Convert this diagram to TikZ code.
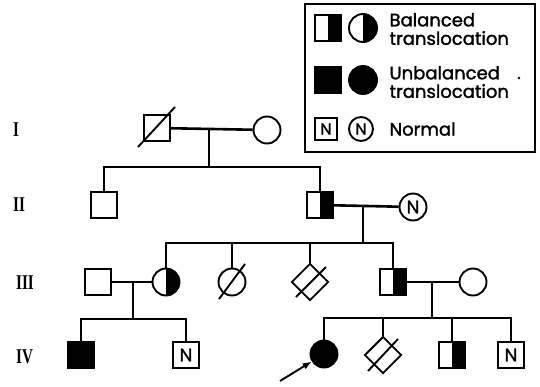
\documentclass[tikz,border=0pt]{standalone}
\usepackage{fontspec}
\newfontfamily\keyfont{Poppins}[FakeBold=1.6]
\newfontfamily\genfont{Liberation Serif}
\usetikzlibrary{shapes.geometric,arrows.meta}

\tikzset{
  sym/.style={draw, line width=1.9pt, inner sep=0pt, font=\keyfont\fontsize{18}{18}\selectfont},
  male/.style={sym, rectangle, minimum size=26pt},
  female/.style={sym, circle, minimum size=27pt},
  unknown/.style={sym, diamond, minimum size=37pt, aspect=1},
  carrier/.style={path picture={\fill[black] (path picture bounding box.north) rectangle (path picture bounding box.south east);}},
  affected/.style={fill=black},
  link/.style={line width=2.6pt},
  slash/.style={line width=1.9pt},
  gen/.style={anchor=west, inner sep=0pt, font=\genfont\bfseries\fontsize{21}{21}\selectfont},
  legtext/.style={anchor=west, align=left, font=\keyfont\fontsize{18}{18.5}\selectfont}
}
\newcommand{\numeral}[1]{\scalebox{0.72}[1]{#1}}

\begin{document}
\begin{tikzpicture}[x=1pt,y=-1pt]
\useasboundingbox (0,0) rectangle (540,386);

% generation labels
\node[gen] (gI)   at (13,130) {\numeral{I}};
\node[gen] (gII)  at (13,205) {\numeral{II}};
\node[gen] (gIII) at (16,283) {\numeral{III}};
\node[gen] (gIV)  at (16,357) {\numeral{IV}};

% generation I
\node[male]   (I1) at (157,128) {};
\node[female] (I2) at (267,130) {};
\draw[slash] ([shift={(-19,19)}]I1.center) -- ([shift={(18,-21)}]I1.center);
\coordinate (c1) at (209,130);
\coordinate (s1) at (209,167);
\draw[link] (I1) -- (I2);
\draw[link] (c1) -- (s1);

% generation II
\node[male]          (II1) at (104,205) {};
\node[male,carrier]  (II2) at (320,205) {};
\node[female]        (II3) at (413,207) {N};
\draw[link] (s1) -| (II1);
\draw[link] (s1) -| (II2);
\coordinate (c2) at (363,206);
\coordinate (s2) at (363,243);
\draw[link] (II2) -- (II3);
\draw[link] (c2) -- (s2);

% generation III
\node[male]            (III1) at (98,282) {};
\node[female,carrier]  (III2) at (166,282) {};
\node[female]          (III3) at (232,282) {};
\node[unknown]         (III4) at (310,282) {};
\node[male,carrier]    (III5) at (393,282) {};
\node[female]          (III6) at (473,282) {};
\draw[slash] ([shift={(-13,17)}]III3.center) -- ([shift={(13,-18)}]III3.center);
\draw[slash] ([shift={(-14,15)}]III4.center) -- ([shift={(16,-15)}]III4.center);
\draw[link] (s2) -| (III2);
\draw[link] (s2) -| (III3);
\draw[link] (s2) -| (III4);
\draw[link] (s2) -| (III5);
\coordinate (c3) at (133,282);
\coordinate (s3) at (133,319);
\draw[link] (III1) -- (III2);
\draw[link] (c3) -- (s3);
\coordinate (c4) at (432,282);
\coordinate (s4) at (432,318);
\draw[link] (III5) -- (III6);
\draw[link] (c4) -- (s4);

% generation IV
\node[male,affected]   (IV1) at (81,355) {};
\node[male]            (IV2) at (186,355) {N};
\node[female,affected] (IV3) at (324,354) {};
\node[unknown]         (IV4) at (383,355) {};
\node[male,carrier]    (IV5) at (452,355) {};
\node[male]            (IV6) at (511,355) {N};
\draw[slash] ([shift={(-15,16)}]IV4.center) -- ([shift={(15,-16)}]IV4.center);
\draw[link] (s3) -| (IV1);
\draw[link] (s3) -| (IV2);
\draw[link] (s4) -| (IV3);
\draw[link] (s4) -| (IV4);
\draw[link] (s4) -| (IV5);
\draw[link] (s4) -| (IV6);

% proband arrow
\coordinate (pa) at (280,381);
\draw[line width=1.9pt, -{Latex[length=9pt,width=7pt]}] (pa) -- (IV3);

% key
\draw[line width=2.4pt] (305,4) rectangle (535,152);
\node[male,carrier]    (kb1) at (328,28) {};
\node[female,carrier, minimum size=28pt] (kb2) at (363,28) {};
\node[legtext] (kbt) at (386,29) {Balanced\\translocation};
\node[male,affected]   (ku1) at (328,80) {};
\node[female,affected, minimum size=28pt] (ku2) at (363,80) {};
\node[legtext] (kut) at (386,82) {Unbalanced\\translocation};
\fill (519,78) circle (1.3);
\node[male, minimum size=22pt, font=\keyfont\fontsize{16}{16}\selectfont]   (kn1) at (326,129) {N};
\node[female, minimum size=24pt, font=\keyfont\fontsize{16}{16}\selectfont] (kn2) at (361,129) {N};
\node[legtext] (knt) at (386,129) {Normal};
\end{tikzpicture}
\end{document}
